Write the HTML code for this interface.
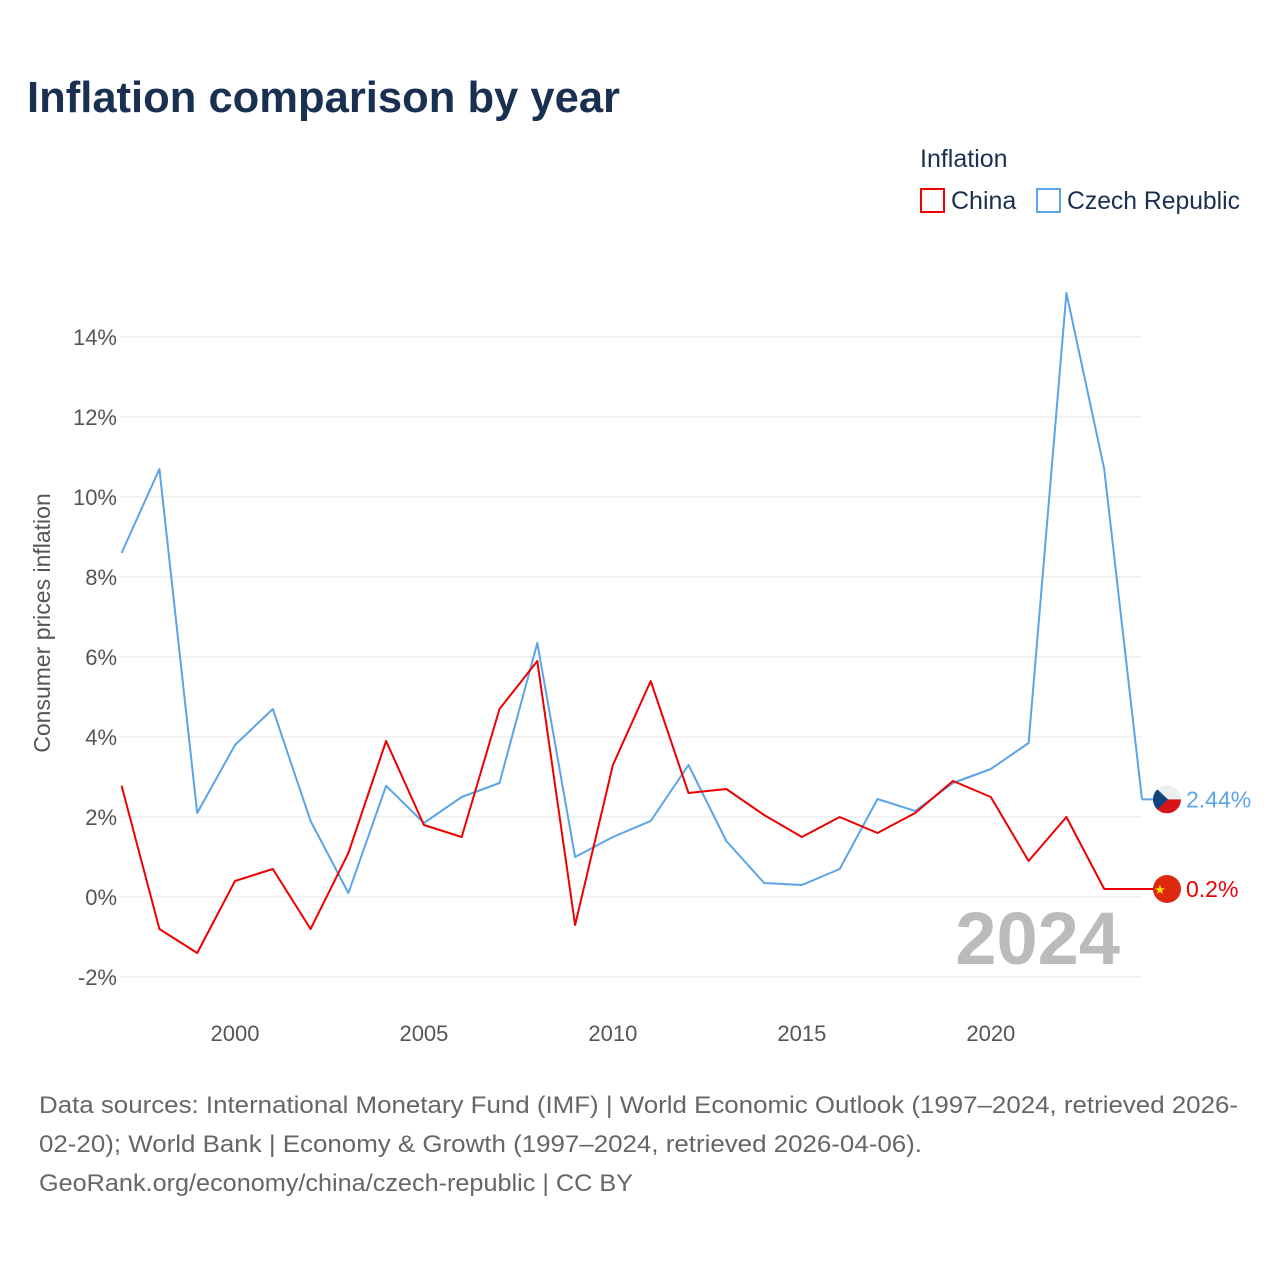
<!DOCTYPE html>
<html><head><meta charset="utf-8">
<style>
html,body{margin:0;padding:0;background:#fff;width:1280px;height:1280px;overflow:hidden;font-family:"Liberation Sans",sans-serif;}
</style></head>
<body>
<svg id="chart" width="1280" height="1280" viewBox="0 0 1280 1280" xmlns="http://www.w3.org/2000/svg" font-family="Liberation Sans, sans-serif">
<text x="27" y="112" font-size="44" font-weight="bold" fill="#1a3050" textLength="593" lengthAdjust="spacingAndGlyphs">Inflation comparison by year</text>
<text x="920" y="167" font-size="25" fill="#1a3050">Inflation</text>
<g>
<rect x="921" y="189" width="23" height="23" fill="none" stroke="#ee0000" stroke-width="2"/>
<text x="951" y="209" font-size="25" fill="#1a3050">China</text></g>
<g>
<rect x="1037" y="189" width="23" height="23" fill="none" stroke="#5ba4e8" stroke-width="2"/>
<text x="1067" y="209" font-size="25" fill="#1a3050" textLength="173" lengthAdjust="spacingAndGlyphs">Czech Republic</text></g>
<text transform="translate(50,623) rotate(-90)" text-anchor="middle" font-size="23" fill="#555">Consumer prices inflation</text>
<g id="grid"></g><g id="yticks"></g><g id="xticks"></g>
<text x="1120" y="964" text-anchor="end" font-size="74" font-weight="bold" fill="#bbb">2024</text>
<g id="series"></g>
<g font-size="24" fill="#666">
<text x="39" y="1113" textLength="1199" lengthAdjust="spacingAndGlyphs">Data sources: International Monetary Fund (IMF) | World Economic Outlook (1997–2024, retrieved 2026-</text>
<text x="39" y="1152" textLength="883" lengthAdjust="spacingAndGlyphs">02-20); World Bank | Economy &amp; Growth (1997–2024, retrieved 2026-04-06).</text>
<text x="39" y="1191" textLength="594" lengthAdjust="spacingAndGlyphs">GeoRank.org/economy/china/czech-republic | CC BY</text></g>
</svg>
<script>
const years=[1997,1998,1999,2000,2001,2002,2003,2004,2005,2006,2007,2008,2009,2010,2011,2012,2013,2014,2015,2016,2017,2018,2019,2020,2021,2022,2023,2024];
const china=[2.78,-0.8,-1.4,0.4,0.7,-0.8,1.1,3.9,1.8,1.5,4.7,5.9,-0.7,3.3,5.4,2.6,2.7,2.05,1.5,2.0,1.6,2.1,2.9,2.5,0.9,2.0,0.2,0.2];
const czech=[8.6,10.7,2.1,3.8,4.7,1.9,0.1,2.78,1.85,2.5,2.85,6.35,1.0,1.5,1.9,3.3,1.4,0.35,0.3,0.7,2.45,2.15,2.85,3.2,3.85,15.1,10.7,2.44];
const yTicks=[-2,0,2,4,6,8,10,12,14];
const xTicks=[2000,2005,2010,2015,2020];
const NS="http://www.w3.org/2000/svg";
const x=v=>121.6+(v-1997)*(1142-121.6)/27;
const y=v=>897-v*40;
function mk(t,a,p){const e=document.createElementNS(NS,t);for(const k in a)e.setAttribute(k,a[k]);p.appendChild(e);return e;}
const grid=document.getElementById('grid'),yt=document.getElementById('yticks'),xt=document.getElementById('xticks'),ser=document.getElementById('series');
yTicks.forEach(v=>{
 const l=mk('line',{x1:121,x2:1142,y1:y(v),y2:y(v),stroke:'#e6e6e6','stroke-width':1},grid);
 
 
 const t=mk('text',{x:117,y:y(v)+8,'text-anchor':'end','font-size':22,fill:'#555'},yt);
 t.textContent=v+'%';
 
 
});
xTicks.forEach(v=>{
 const t=mk('text',{x:x(v),y:1041,'text-anchor':'middle','font-size':22,fill:'#555'},xt);
 t.textContent=v;
 
 
});
function line(vals,color,name){
 const d=vals.map((v,i)=>(i?'L':'M')+x(years[i]).toFixed(1)+','+y(v).toFixed(1)).join('');
 const p=mk('path',{d:d,fill:'none',stroke:color,'stroke-width':2,'stroke-linejoin':'round'},ser);
 
 
 const lv=vals[vals.length-1],ly=y(lv);
 const ext=mk('line',{x1:1142,x2:1160,y1:ly,y2:ly,stroke:color,'stroke-width':2},ser);
 
 
 return ly;
}
const czY=line(czech,'#5ba4e8','czech-line');
const cnY=line(china,'#ee0000','china-line');
const fg=mk('g',{},ser);


const cp=mk('clipPath',{id:'cc'},fg);
mk('circle',{cx:1167,cy:czY,r:14},cp);
const cg=mk('g',{'clip-path':'url(#cc)'},fg);
mk('rect',{x:1153,y:czY-14,width:28,height:14,fill:'#eee'},cg);
mk('rect',{x:1153,y:czY,width:28,height:14,fill:'#d7141a'},cg);
mk('polygon',{points:`1153,${czY-14} 1168,${czY} 1153,${czY+14}`,fill:'#11457e'},cg);
const ct=mk('text',{x:1186,y:czY+8,'font-size':23,fill:'#5ba4e8'},ser);
ct.textContent=czech[czech.length-1]+'%';


const cf=mk('g',{},ser);


mk('circle',{cx:1167,cy:cnY,r:14,fill:'#de2910'},cf);
const st=mk('text',{x:1160,y:cnY+5,'font-size':13,fill:'#ffde00','text-anchor':'middle'},cf);st.textContent='★';
const nt=mk('text',{x:1186,y:cnY+8,'font-size':23,fill:'#ee0000'},ser);
nt.textContent=china[china.length-1]+'%';


</script>
</body></html>
